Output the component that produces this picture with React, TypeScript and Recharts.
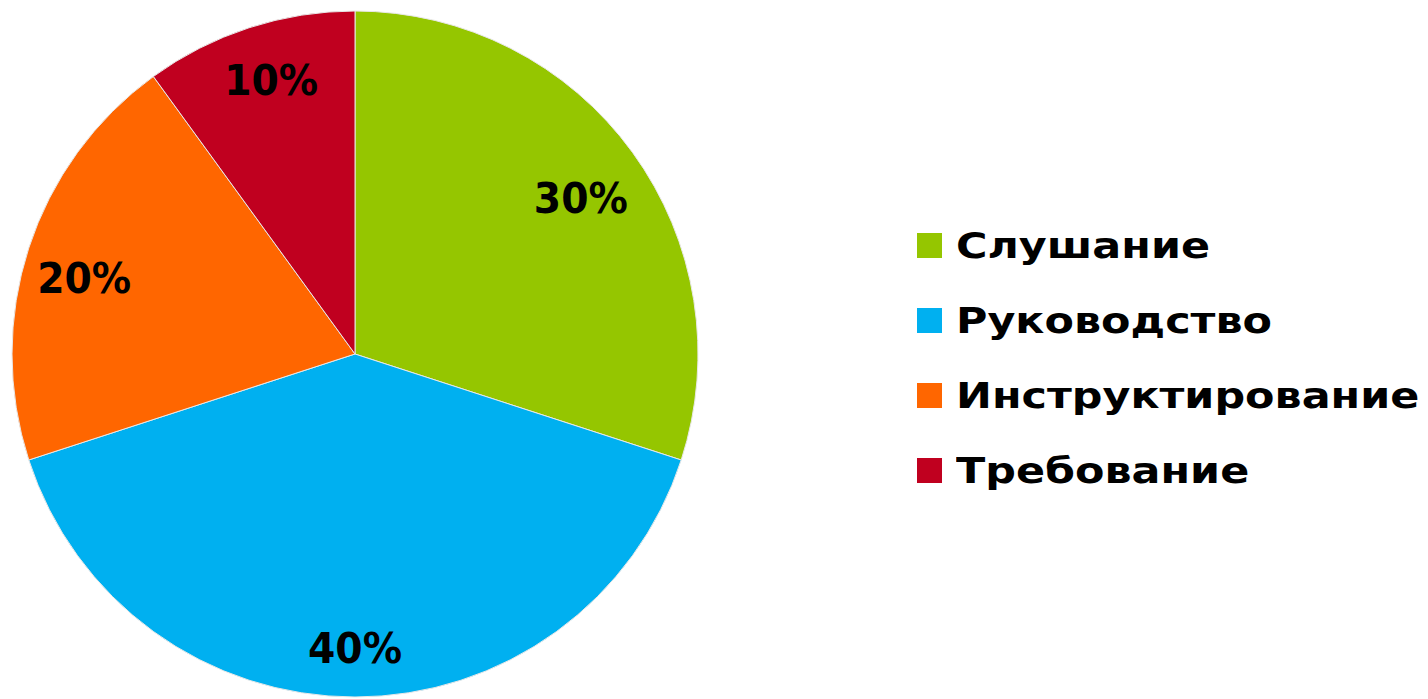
import { Legend, Pie, PieChart, Cell } from "recharts"

// Shares of leadership styles
const categories = ["Слушание", "Руководство", "Инструктирование", "Требование"]
const shares = [30, 40, 20, 10]
const colors = ["#95C600", "#00B0F0", "#FF6600", "#C0001F"]

const data = categories.map((name, i) => ({ name, value: shares[i] }))

const RADIAN = Math.PI / 180
const FONT = "'DejaVu Sans', sans-serif"
// label placement per slice: share of radius and a small angle nudge (deg)
const labelRadius = [0.8, 0.857, 0.82, 0.836]
const labelNudge = [-1.4, 0, 2.3, -1]

const renderLabel = (props: any) => {
  const { cx, cy, midAngle, outerRadius, percent, index } = props
  const r = outerRadius * labelRadius[index]
  const a = (midAngle + labelNudge[index]) * RADIAN
  const x = cx + r * Math.cos(-a)
  const y = cy + r * Math.sin(-a)
  return (
    <text
      x={x}
      y={y}
      fill="#000"
      textAnchor="middle"
      dominantBaseline="central"
      fontFamily={FONT}
      fontWeight="bold"
      fontSize={43}
      textLength={94}
      lengthAdjust="spacingAndGlyphs"
    >
      {`${Math.round(percent * 100)}%`}
    </text>
  )
}

const renderLegend = () => (
  <div style={{ fontFamily: FONT, fontWeight: "bold", fontSize: 35, color: "#000" }}>
    {categories.map((name, i) => (
      <div key={name} style={{ display: "flex", alignItems: "center", height: 75 }}>
        <span
          style={{
            display: "inline-block",
            width: 25,
            height: 25,
            background: colors[i],
            marginRight: 14,
            flexShrink: 0,
          }}
        />
        <span
          style={{
            display: "inline-block",
            whiteSpace: "nowrap",
            transform: "scaleX(1.225)",
            transformOrigin: "left center",
          }}
        >
          {name}
        </span>
      </div>
    ))}
  </div>
)

export default function App() {
  return (
    <div style={{ position: "absolute", left: 0, top: 0, background: "#fff" }}>
      <PieChart width={1428} height={699} margin={{ top: 0, right: 0, bottom: 0, left: 0 }}>
        <Pie
          data={data}
          dataKey="value"
          nameKey="name"
          cx={355}
          cy={354}
          outerRadius={343}
          startAngle={90}
          endAngle={-270}
          stroke="#e8e8e8"
          strokeWidth={1}
          label={renderLabel}
          labelLine={false}
          isAnimationActive={false}
        >
          {data.map((d, i) => (
            <Cell key={d.name} fill={colors[i]} />
          ))}
        </Pie>
        <Legend
          content={renderLegend}
          wrapperStyle={{ left: 917, top: 208, width: 511 }}
        />
      </PieChart>
    </div>
  )
}
